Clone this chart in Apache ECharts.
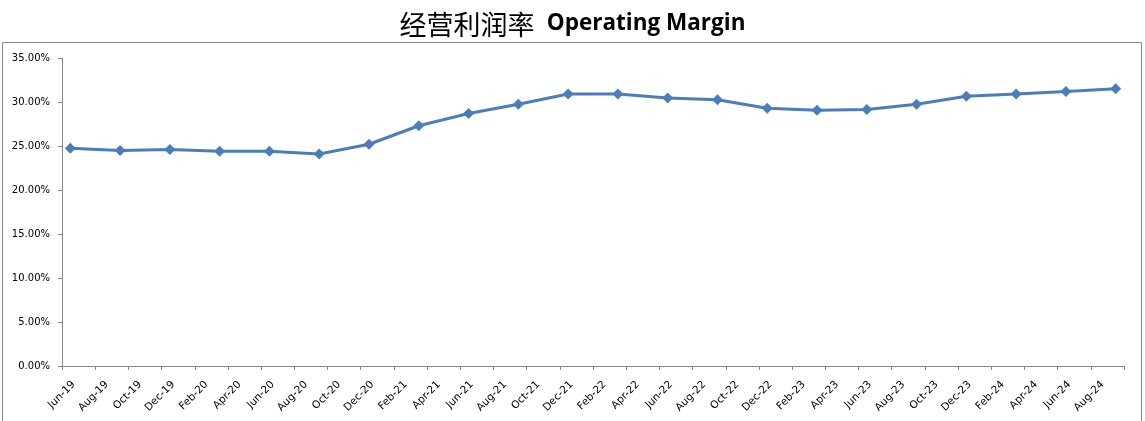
<!DOCTYPE html>
<html>
<head>
<meta charset="utf-8">
<script src="https://cdn.jsdelivr.net/npm/echarts@6/dist/echarts.min.js"></script>
<style>
html,body{margin:0;padding:0;background:#fff;}
#chart{width:1145px;height:421px;}
</style>
</head>
<body>
<div id="chart"></div>
<script>
// Data points (quarterly), values in percent
const dates = ['Jun-19','Sep-19','Dec-19','Mar-20','Jun-20','Sep-20','Dec-20','Mar-21','Jun-21','Sep-21','Dec-21',
  'Mar-22','Jun-22','Sep-22','Dec-22','Mar-23','Jun-23','Sep-23','Dec-23','Mar-24','Jun-24','Sep-24'];
const margins = [24.75, 24.5, 24.6, 24.4, 24.4, 24.1, 25.2, 27.3, 28.7, 29.75, 30.9,
  30.9, 30.45, 30.25, 29.3, 29.05, 29.15, 29.75, 30.65, 30.9, 31.2, 31.5];
// x-axis tick labels (every two months)
const tickLabels = ['Jun-19','Aug-19','Oct-19','Dec-19','Feb-20','Apr-20','Jun-20','Aug-20','Oct-20','Dec-20',
  'Feb-21','Apr-21','Jun-21','Aug-21','Oct-21','Dec-21','Feb-22','Apr-22','Jun-22','Aug-22','Oct-22','Dec-22',
  'Feb-23','Apr-23','Jun-23','Aug-23','Oct-23','Dec-23','Feb-24','Apr-24','Jun-24','Aug-24'];
const yTicks = [0, 5, 10, 15, 20, 25, 30, 35];

const MONTHS = ['Jan','Feb','Mar','Apr','May','Jun','Jul','Aug','Sep','Oct','Nov','Dec'];
function monthIndex(s) {
  const [m, y] = s.split('-');
  return (2000 + parseInt(y, 10) - 2019) * 12 + MONTHS.indexOf(m) - 5;
}
const totalMonths = tickLabels.length * 2;
const seriesData = dates.map((d, i) => [monthIndex(d) + 0.5, margins[i]]);

const gray = '#868686';
const chart = echarts.init(document.getElementById('chart'), null, {renderer: 'canvas'});
chart.setOption({
  animation: false,
  backgroundColor: '#fff',
  title: {
    left: 'center',
    top: 6,
    text: '{a|经营利润率}  {b|Operating Margin}',
    textStyle: {
      fontSize: 22,
      rich: {
        a: {fontFamily: 'Noto Sans CJK SC', fontSize: 27, fontWeight: 'normal', color: '#000'},
        b: {fontFamily: 'Open Sans', fontSize: 22.5, fontWeight: 'bold', color: '#000', padding: [0, 0, 1, 0]}
      }
    }
  },
  graphic: [{
    type: 'rect',
    shape: {x: 2.5, y: 42.5, width: 1139, height: 400},
    style: {fill: 'none', stroke: gray, lineWidth: 1},
    silent: true
  }],
  grid: {left: 62, right: 21, top: 58, bottom: 55, containLabel: false},
  xAxis: [{
    type: 'value',
    min: 0,
    max: totalMonths,
    show: false
  }, {
    type: 'category',
    data: tickLabels,
    boundaryGap: true,
    position: 'bottom',
    axisLine: {show: true, lineStyle: {color: gray, width: 1}},
    axisTick: {show: true, length: 4, lineStyle: {color: gray}},
    axisLabel: {
      interval: 0, rotate: 45, margin: 12,
      padding: [0, 7, 0, 0],
      fontFamily: 'DejaVu Sans', fontSize: 10.5, color: '#000'
    },
    splitLine: {show: false}
  }],
  yAxis: {
    type: 'value',
    min: 0, max: 35, interval: 5,
    axisLine: {show: true, lineStyle: {color: gray, width: 1}},
    axisTick: {show: true, length: 4, lineStyle: {color: gray}},
    axisLabel: {
      margin: 12,
      fontFamily: 'DejaVu Sans', fontSize: 10, color: '#000',
      formatter: v => v.toFixed(2) + '%'
    },
    splitLine: {show: false}
  },
  series: [{
    type: 'line',
    xAxisIndex: 0,
    data: seriesData,
    symbol: 'diamond',
    symbolSize: 11,
    lineStyle: {color: '#4a7ebb', width: 3},
    itemStyle: {color: '#4a7ebb'}
  }]
});
</script>
</body>
</html>
